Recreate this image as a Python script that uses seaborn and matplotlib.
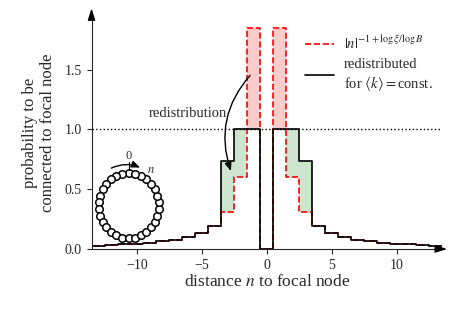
import numpy as np
import matplotlib
matplotlib.use("Agg")
import matplotlib.pyplot as plt
import seaborn as sns
from matplotlib.lines import Line2D

# distance n = 1..14 (mirrored for negative n, 0 at n = 0)
n_pos = [1, 2, 3, 4, 5, 6, 7, 8, 9, 10, 11, 12, 13, 14]
power_law = [1.85, 0.60, 0.31, 0.195, 0.135, 0.10, 0.078, 0.063, 0.052, 0.044, 0.038, 0.033, 0.029, 0.026]
redistributed = [1.0, 1.0, 0.74, 0.195, 0.135, 0.10, 0.078, 0.063, 0.052, 0.044, 0.038, 0.033, 0.029, 0.026]
x_ticks = [-10, -5, 0, 5, 10]
y_ticks = [0.0, 0.5, 1.0, 1.5]
n_ring = 30

sns.set_style("ticks")
plt.rcParams["font.family"] = ["Liberation Serif", "DejaVu Serif"]
plt.rcParams["mathtext.fontset"] = "stix"

n = np.concatenate([-np.array(n_pos[::-1]), [0], n_pos])
red = np.concatenate([power_law[::-1], [0.0], power_law])
black = np.concatenate([redistributed[::-1], [0.0], redistributed])

fig = plt.figure(figsize=(4.67, 3.12), dpi=100)
ax = fig.add_axes([0.196, 0.202, 0.751, 0.747])

# shaded areas: excess above 1 (pink) and where it was moved to (green)
ax.fill_between(n, 1.0, np.maximum(red, 1.0), step="mid", color="red", alpha=0.2, lw=0)
ax.fill_between(n, red, np.maximum(black, red), step="mid", color="green", alpha=0.2, lw=0)
ax.axhline(1.0, color="k", ls=":", lw=1)

sns.lineplot(x=n, y=red, ax=ax, drawstyle="steps-mid", color="red", ls="--", lw=1.2)
sns.lineplot(x=n, y=black, ax=ax, drawstyle="steps-mid", color="k", lw=1.2)

ax.set_xlim(-13.5, 13.5)
ax.set_ylim(0, 1.95)
ax.set_xticks(x_ticks)
ax.set_xticklabels([f"\u2212{abs(t)}" if t < 0 else str(t) for t in x_ticks])
ax.set_yticks(y_ticks)
ax.set_yticklabels([f"{t:.1f}" for t in y_ticks])
ax.tick_params(labelsize=10, length=3.5, width=0.8)
ax.set_xlabel("distance $n$ to focal node", fontsize=12.5, labelpad=2)
ax.set_ylabel("probability to be\nconnected to focal node", fontsize=12, labelpad=6)
sns.despine(ax=ax)

# axis arrows
ax.annotate("", xy=(1.022, 0), xytext=(0.99, 0), xycoords="axes fraction",
            arrowprops=dict(arrowstyle="-|>,head_length=0.7,head_width=0.22", color="k", lw=1))
ax.annotate("", xy=(0, 1.045), xytext=(0, 0.99), xycoords="axes fraction",
            arrowprops=dict(arrowstyle="-|>,head_length=0.7,head_width=0.22", color="k", lw=1))

# redistribution arrow
ax.text(-6.05, 1.13, "redistribution", fontsize=10.5, ha="center", va="center")
ax.annotate("", xy=(-2.7, 0.63), xytext=(-1.15, 1.47),
            arrowprops=dict(arrowstyle="-|>,head_length=0.5,head_width=0.2", color="k", lw=1,
                            connectionstyle="arc3,rad=0.3"))

handles = [Line2D([], [], color="red", ls="--", lw=1.2), Line2D([], [], color="k", lw=1.2)]
labels = [r"$|n|^{-1+\log\xi/\log B}$", "redistributed\nfor $\\langle k\\rangle = $const."]
ax.legend(handles, labels, loc="upper left", bbox_to_anchor=(0.637, 0.912), bbox_transform=fig.transFigure,
          frameon=False, fontsize=10.5, handlelength=2.0, handletextpad=0.7, borderpad=0, labelspacing=0.4)

# ring schematic inset
ax_in = fig.add_axes([0.19, 0.21, 0.171, 0.262])
ax_in.set_xlim(-1.33, 1.33)
ax_in.set_ylim(-1.25, 1.25)
ax_in.axis("off")
phi = np.linspace(0, 2 * np.pi, n_ring, endpoint=False) + np.pi / 2
ax_in.plot(np.cos(phi), np.sin(phi), "o", ms=5.4, mfc="white", mec="k", mew=1.1, ls="none")
ax_in.annotate("", xy=(0.47, 1.13), xytext=(-0.66, 1.11),
               arrowprops=dict(arrowstyle="-|>,head_length=0.5,head_width=0.2", color="k", lw=1,
                               connectionstyle="arc3,rad=-0.25"))
ax_in.plot([0, 0], [1.1, 1.32], color="k", lw=0.8, clip_on=False)
ax_in.text(0, 1.34, "0", fontsize=9, ha="center", va="bottom")
ax_in.text(0.6, 1.08, "$n$", fontsize=9, ha="left", va="center")

fig.savefig("out.png", dpi=100)
